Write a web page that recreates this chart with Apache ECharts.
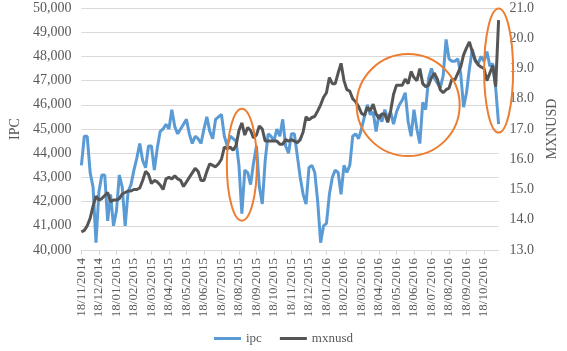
<!DOCTYPE html>
<html>
<head>
<meta charset="utf-8">
<script src="https://cdn.jsdelivr.net/npm/echarts@6/dist/echarts.min.js"></script>
<style>
html, body { margin: 0; padding: 0; background: #fff; }
#chart { width: 567px; height: 351px; }
</style>
</head>
<body>
<div id="chart"></div>
<script>
// month/year pairs, the 18th of each one gets a label
const months = ['11/2014', '12/2014', '01/2015', '02/2015', '03/2015', '04/2015', '05/2015', '06/2015',
    '07/2015', '08/2015', '09/2015', '10/2015', '11/2015', '12/2015', '01/2016', '02/2016', '03/2016',
    '04/2016', '05/2016', '06/2016', '07/2016', '08/2016', '09/2016', '10/2016', '11/2016'];
const daysBefore = ['18', '23', '28'];
const daysAfter = ['03', '08', '13'];

// IPC index, six readings per month
const ipc = [
    43500, 44700, 44700, 43200, 42600, 40300,
    42400, 43100, 43100, 41200, 42300, 41000,
    41600, 43100, 42600, 41000, 42400, 42700,
    43300, 43800, 44400, 43700, 43400, 44300,
    44300, 43300, 44200, 44900, 45000, 45200,
    45000, 45800, 45100, 44800, 45000, 45200,
    45400, 44800, 44400, 44700, 44600, 44400,
    45000, 45500, 44900, 44600, 45400, 45500,
    45600, 44700, 44300, 44700, 44600, 44500,
    43500, 41500, 43300, 43200, 42700, 43600,
    44300, 42600, 41900, 43700, 44800, 44700,
    44500, 45000, 44700, 45400, 44300, 44000,
    44800, 44800, 43900, 43000, 42300, 41900,
    43400, 43500, 43200, 42000, 40300, 41000,
    41100, 42300, 43000, 43300, 43200, 42300,
    43500, 43200, 43500, 44700, 44800, 44600,
    45000, 45500, 46000, 45600, 45700, 44900,
    45600, 45300, 45800, 45400, 45700, 45200,
    45700, 46000, 46200, 46500, 45300, 44700,
    45800, 45000, 44400, 46100, 45800, 47100,
    47500, 47100, 46900, 46700, 47200, 48700,
    47900, 47800, 47800, 47900, 47300, 45900,
    46500, 47500, 48300, 47800, 47700, 48000,
    47800, 48200, 47600, 47700, 46700, 45200
];

// MXN per USD
const mxnusd = [
    13.6, 13.65, 13.8, 14.05, 14.45, 14.78,
    14.65, 14.7, 14.8, 14.9, 14.6, 14.65,
    14.65, 14.7, 14.85, 14.9, 14.95, 14.95,
    15.0, 15.0, 15.05, 15.3, 15.6, 15.5,
    15.2, 15.3, 15.25, 15.15, 15.0, 15.35,
    15.4, 15.35, 15.45, 15.35, 15.3, 15.1,
    15.25, 15.4, 15.55, 15.7, 15.6, 15.3,
    15.3, 15.6, 15.85, 15.8, 15.75, 15.85,
    16.0, 16.4, 16.35, 16.4, 16.3, 16.45,
    16.95, 17.2, 16.8, 17.05, 16.95, 16.7,
    16.8, 17.1, 17.0, 16.6, 16.6, 16.6,
    16.6, 16.6, 16.5, 16.5, 16.65, 16.6,
    16.65, 16.6, 16.55, 16.65, 16.9, 17.4,
    17.3, 17.38, 17.42, 17.6, 17.8, 18.05,
    18.2, 18.7, 18.5, 18.5, 18.85, 19.17,
    18.6, 18.3, 18.25, 18.0, 17.9, 17.74,
    17.52, 17.45, 17.72, 17.6, 17.82, 17.5,
    17.35, 17.5, 17.5, 17.22, 17.6, 18.15,
    18.45, 18.45, 18.45, 18.65, 18.5, 18.9,
    18.7, 18.6, 19.0, 18.5, 18.4, 18.45,
    18.7, 18.85, 18.65, 18.3, 18.2, 18.3,
    18.35, 18.65, 18.62, 18.84, 19.05, 19.45,
    19.68, 19.88, 19.55, 19.28, 19.12, 19.05,
    19.0, 18.6, 18.85, 19.1, 18.4, 20.6
];

// orange rings drawn on the chart: centre as [category index, ipc value]
const highlights = [
    {center: [55.3, 43525], rx: 15, ry: 56},
    {center: [111.8, 45990], rx: 51.5, ry: 51},
    {center: [143.1, 47414], rx: 14.5, ry: 62}
];

let dates = [];
for (let m = 0; m < months.length - 1; m++) {
    daysBefore.forEach(d => dates.push(d + '/' + months[m]));
    daysAfter.forEach(d => dates.push(d + '/' + months[m + 1]));
}

const FONT = 'Liberation Serif';
const TEXT_COLOR = '#595959';
const GRID_COLOR = '#d9d9d9';

const chart = echarts.init(document.getElementById('chart'));

let isLabelDay = function (index, value) {
    return value.indexOf('18/') === 0;
};

chart.setOption({
    animation: false,
    color: ['#5b9bd5', '#555555'],
    grid: {
        left: 72,
        right: 56,
        top: 8,
        bottom: 101
    },
    legend: {
        bottom: 1,
        left: 'center',
        icon: 'rect',
        itemWidth: 27,
        itemHeight: 3,
        itemGap: 18,
        textStyle: {fontFamily: FONT, fontSize: 13, color: TEXT_COLOR},
        data: ['ipc', 'mxnusd']
    },
    xAxis: {
        type: 'category',
        boundaryGap: false,
        data: dates,
        axisLine: {lineStyle: {color: GRID_COLOR}},
        axisTick: {show: true, interval: isLabelDay, length: 5, lineStyle: {color: GRID_COLOR}},
        axisLabel: {
            interval: isLabelDay,
            rotate: 90,
            margin: 8,
            fontFamily: FONT,
            fontSize: 13,
            color: TEXT_COLOR
        }
    },
    yAxis: [
        {
            type: 'value',
            name: 'IPC',
            nameLocation: 'middle',
            nameGap: 57,
            nameRotate: 90,
            nameTextStyle: {fontFamily: FONT, fontSize: 14, color: TEXT_COLOR},
            min: 40000,
            max: 50000,
            interval: 1000,
            axisLine: {show: false},
            axisTick: {show: false},
            axisLabel: {
                margin: 10,
                fontFamily: FONT,
                fontSize: 14,
                color: TEXT_COLOR,
                formatter: function (v) { return v.toLocaleString('en-US'); }
            },
            splitLine: {lineStyle: {color: GRID_COLOR}}
        },
        {
            type: 'value',
            name: 'MXNUSD',
            nameLocation: 'middle',
            nameGap: 44,
            nameRotate: 90,
            nameTextStyle: {fontFamily: FONT, fontSize: 14, color: TEXT_COLOR},
            min: 13,
            max: 21,
            interval: 1,
            axisLine: {show: false},
            axisTick: {show: false},
            axisLabel: {
                margin: 11,
                fontFamily: FONT,
                fontSize: 14,
                color: TEXT_COLOR,
                formatter: function (v) { return v.toFixed(1); }
            },
            splitLine: {show: false}
        }
    ],
    series: [
        {
            name: 'ipc',
            type: 'line',
            yAxisIndex: 0,
            showSymbol: false,
            symbol: 'none',
            lineStyle: {width: 3, color: '#5b9bd5'},
            data: ipc
        },
        {
            name: 'mxnusd',
            type: 'line',
            yAxisIndex: 1,
            showSymbol: false,
            symbol: 'none',
            lineStyle: {width: 3, color: '#555555'},
            data: mxnusd
        }
    ]
});

// Place the orange rings from data coordinates.
let rings = highlights.map(function (h) {
    let p = chart.convertToPixel({xAxisIndex: 0, yAxisIndex: 0}, h.center);
    return {
        type: 'ellipse',
        shape: {cx: p[0], cy: p[1], rx: h.rx, ry: h.ry},
        style: {fill: null, stroke: '#ed7d31', lineWidth: 2},
        z: 100
    };
});
chart.setOption({graphic: rings});

window.addEventListener('resize', function () {
    chart.resize();
});
</script>
</body>
</html>
